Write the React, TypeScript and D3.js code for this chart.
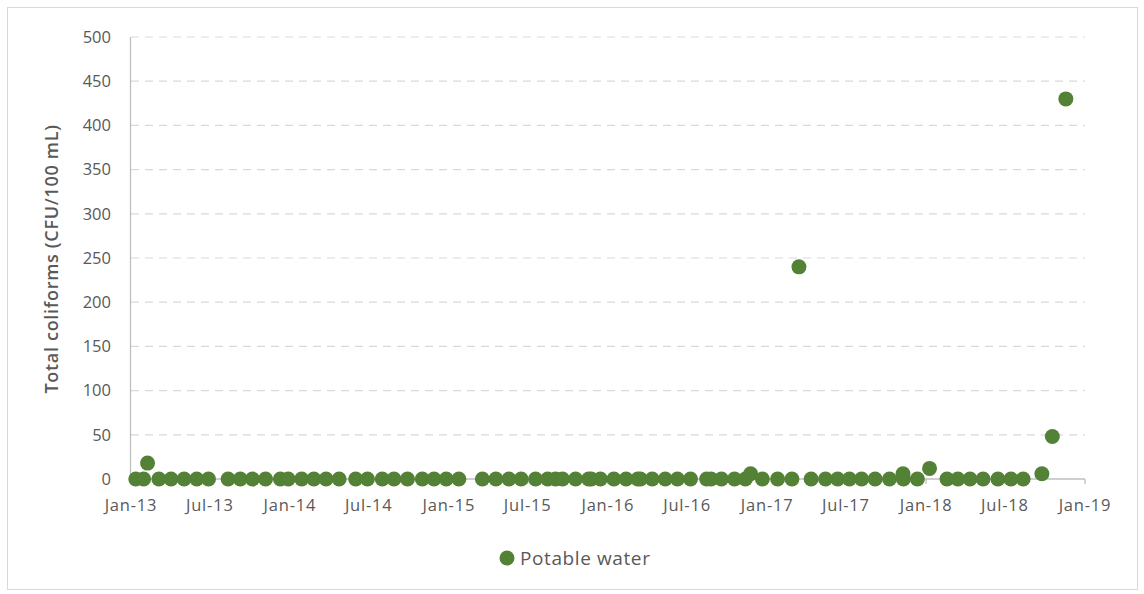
import React from 'react';
import * as d3 from 'd3';

// sampling dates and total coliform counts
const sampleDates = [
  '2013-01-12', '2013-01-30', '2013-02-08', '2013-03-06', '2013-04-03', '2013-05-03', '2013-06-01', '2013-06-28',
  '2013-08-12', '2013-09-09', '2013-10-07', '2013-11-06', '2013-12-10', '2013-12-28',
  '2014-01-28', '2014-02-25', '2014-03-25', '2014-04-24', '2014-06-01', '2014-06-28', '2014-08-01', '2014-08-28',
  '2014-09-28', '2014-11-01', '2014-11-28', '2014-12-26', '2015-01-24',
  '2015-03-19', '2015-04-19', '2015-05-19', '2015-06-16', '2015-07-19', '2015-08-16', '2015-09-03', '2015-09-19',
  '2015-10-19', '2015-11-18', '2015-11-24', '2015-12-15',
  '2016-01-15', '2016-02-12', '2016-03-10', '2016-03-16', '2016-04-12', '2016-05-12', '2016-06-09', '2016-07-09',
  '2016-08-15', '2016-08-25', '2016-09-18', '2016-10-18', '2016-11-12', '2016-11-24', '2016-12-21',
  '2017-01-25', '2017-02-27', '2017-03-15', '2017-04-12', '2017-05-15', '2017-06-12', '2017-07-09', '2017-08-06',
  '2017-09-06', '2017-10-09', '2017-11-09', '2017-11-10', '2017-12-12',
  '2018-01-09', '2018-02-18', '2018-03-15', '2018-04-12', '2018-05-12', '2018-06-15', '2018-07-15', '2018-08-12',
  '2018-09-24', '2018-10-18', '2018-11-18'
];

const coliformValues = [
  0, 0, 18, 0, 0, 0, 0, 0,
  0, 0, 0, 0, 0, 0,
  0, 0, 0, 0, 0, 0, 0, 0,
  0, 0, 0, 0, 0,
  0, 0, 0, 0, 0, 0, 0, 0,
  0, 0, 0, 0,
  0, 0, 0, 0, 0, 0, 0, 0,
  0, 0, 0, 0, 0, 6, 0,
  0, 0, 240, 0, 0, 0, 0, 0,
  0, 0, 6, 0, 0,
  12, 0, 0, 0, 0, 0, 0, 0,
  6, 48, 430
];

const xTickDates = ['2013-01-01', '2013-07-01', '2014-01-01', '2014-07-01', '2015-01-01', '2015-07-01', '2016-01-01',
  '2016-07-01', '2017-01-01', '2017-07-01', '2018-01-01', '2018-07-01', '2019-01-01'];
const yTicks = [0, 50, 100, 150, 200, 250, 300, 350, 400, 450, 500];

const seriesName = 'Potable water';
const yTitle = 'Total coliforms (CFU/100 mL)';

const W = 1144;
const H = 594;
const FONT = '"Open Sans", Lato, sans-serif';
const GREEN = '#538135';
const TEXT = '#595959';
const AXIS = '#bfbfbf';
const GRID = '#d9d9d9';

const parse = d3.timeParse('%Y-%m-%d');
const fmt = d3.timeFormat('%b-%y');

const App: React.FC = () => {
  const plot = { left: 131, right: 1085, top: 37, bottom: 479 };

  const x = d3.scaleTime()
    .domain([parse('2013-01-01')!, parse('2019-01-01')!])
    .range([plot.left, plot.right]);
  const y = d3.scaleLinear().domain([0, 500]).range([plot.bottom, plot.top]);

  const points = sampleDates.map((d, i) => ({ date: parse(d)!, value: coliformValues[i] }));

  return (
    <svg width={W} height={H} style={{ position: 'absolute', left: 0, top: 0, background: '#fff' }}
      fontFamily={FONT}>
      <rect x={7.5} y={7.5} width={W - 14} height={H - 12} fill="#fff" stroke={GRID} strokeWidth={1} />

      {/* gridlines */}
      {yTicks.filter(t => t > 0).map(t => (
        <line key={t} x1={plot.left} x2={plot.right} y1={y(t)} y2={y(t)}
          stroke={GRID} strokeWidth={1.2} strokeDasharray="8 6" />
      ))}

      {/* y axis */}
      <line x1={plot.left - 0.5} x2={plot.left - 0.5} y1={plot.top} y2={plot.bottom} stroke={AXIS} strokeWidth={1.3} />
      {yTicks.map(t => (
        <text key={t} x={111} y={y(t)} dy="0.35em" textAnchor="end" fontSize={16.5} fill={TEXT}>{t}</text>
      ))}
      <text transform={`translate(58,${(plot.top + plot.bottom) / 2 + 1}) rotate(-90)`} textAnchor="middle"
        fontSize={18} fontWeight={600} letterSpacing={0.7} fill={TEXT}>{yTitle}</text>

      {/* x axis */}
      <line x1={plot.left} x2={plot.right} y1={plot.bottom} y2={plot.bottom} stroke={AXIS} strokeWidth={1.3} />
      {xTickDates.map(d => {
        const px = x(parse(d)!);
        return (
          <g key={d}>
            <line x1={px} x2={px} y1={plot.bottom} y2={plot.bottom + 5} stroke={AXIS} strokeWidth={1.3} />
            <text x={px} y={plot.bottom + 32} textAnchor="middle" fontSize={16.5} letterSpacing={0.8}
              fill={TEXT}>{fmt(parse(d)!)}</text>
          </g>
        );
      })}

      {/* points */}
      {points.map((p, i) => (
        <circle key={i} cx={x(p.date)} cy={y(p.value)} r={7.5} fill={GREEN} />
      ))}

      {/* legend */}
      <circle cx={507} cy={558} r={7.5} fill={GREEN} />
      <text x={520} y={558} dy="0.35em" fontSize={19} letterSpacing={0.6} fill={TEXT}>{seriesName}</text>
    </svg>
  );
};

export default App;
